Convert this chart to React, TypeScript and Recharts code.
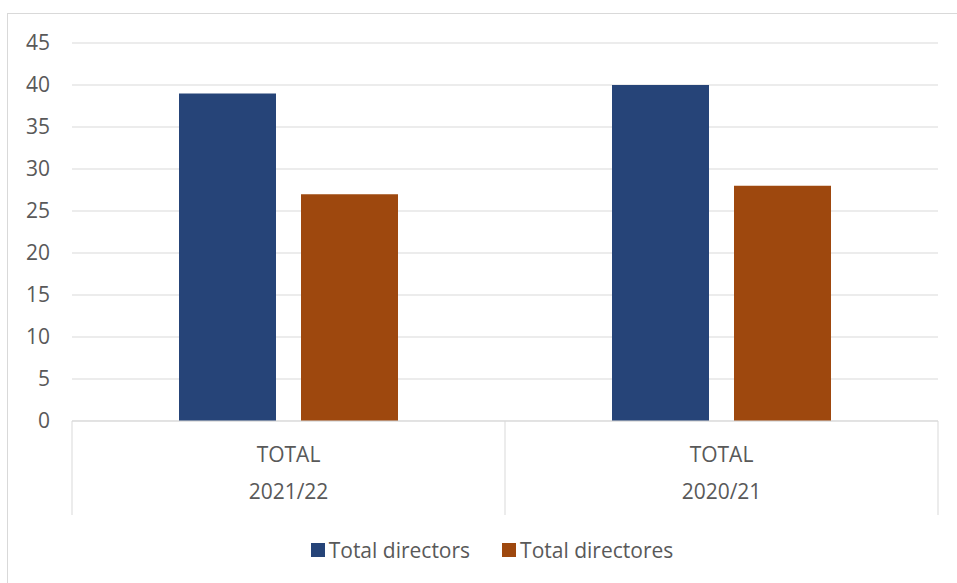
import React from 'react';
import { BarChart, Bar, XAxis, YAxis, CartesianGrid, Legend } from 'recharts';

const years = ['2021/22', '2020/21'];
const groupLabel = 'TOTAL';
const directors = [39, 40];
const directores = [27, 28];
const yTicks = [0, 5, 10, 15, 20, 25, 30, 35, 40, 45];

const seriesNames = ['Total directors', 'Total directores'];
const seriesColors = ['#264478', '#9E480E'];

const data = years.map((year, i) => ({
  year,
  directors: directors[i],
  directores: directores[i],
}));

const textColor = '#595959';
const lineColor = '#d9d9d9';
const font = '"Open Sans", sans-serif';
const fontSize = 21;

const CategoryTick = (props: any) => {
  const { x, y, payload, index, visibleTicksCount } = props;
  const half = payload && payload.offset ? payload.offset : 216.5;
  const isLast = index === (visibleTicksCount ?? years.length) - 1;
  return (
    <g>
      <line x1={x - half} x2={x - half} y1={y} y2={y + 94} stroke={lineColor} strokeWidth={1} />
      {isLast && <line x1={x + half} x2={x + half} y1={y} y2={y + 94} stroke={lineColor} strokeWidth={1} />}
      <text x={x} y={y + 33} textAnchor="middle" dominantBaseline="central" fill={textColor} fontSize={fontSize} fontFamily={font}>
        {groupLabel}
      </text>
      <text x={x} y={y + 70} textAnchor="middle" dominantBaseline="central" fill={textColor} fontSize={fontSize} fontFamily={font}>
        {payload.value}
      </text>
    </g>
  );
};

const LegendContent = () => (
  <div
    style={{
      display: 'flex',
      justifyContent: 'center',
      alignItems: 'center',
      height: 30,
      paddingLeft: 27,
      boxSizing: 'border-box',
      fontFamily: font,
      fontSize,
      color: textColor,
    }}
  >
    {seriesNames.map((name, i) => (
      <div key={name} style={{ display: 'flex', alignItems: 'center', marginLeft: i > 0 ? 32 : 0 }}>
        <span style={{ display: 'inline-block', width: 14, height: 14, background: seriesColors[i], marginRight: 4 }} />
        <span>{name}</span>
      </div>
    ))}
  </div>
);

export default function App() {
  return (
    <div style={{ position: 'absolute', left: 0, top: 0, width: 957, height: 583, overflow: 'hidden', background: '#fff' }}>
      <div
        style={{
          position: 'absolute',
          left: 7,
          top: 13,
          width: 990,
          height: 600,
          border: `1px solid ${lineColor}`,
        }}
      />
      <div style={{ position: 'absolute', left: 0, top: 0 }}>
        <BarChart
          width={957}
          height={583}
          data={data}
          margin={{ top: 43, right: 19, left: 0, bottom: 38 }}
          barGap={25}
          style={{ fontFamily: font }}
        >
          <CartesianGrid vertical={false} stroke={lineColor} />
          <XAxis
            dataKey="year"
            height={94}
            axisLine={{ stroke: lineColor }}
            tickLine={false}
            tickSize={0}
            tickMargin={0}
            tick={<CategoryTick />}
            interval={0}
          />
          <YAxis
            width={72}
            domain={[0, 45]}
            ticks={yTicks}
            axisLine={false}
            tickLine={false}
            tickSize={0}
            tickMargin={22}
            tick={{ fill: textColor, fontSize, fontFamily: font }}
          />
          <Legend
            verticalAlign="bottom"
            content={<LegendContent />}
            wrapperStyle={{ top: 535, bottom: 'auto', left: 0, width: 957, height: 30 }}
          />
          <Bar dataKey="directors" name={seriesNames[0]} fill={seriesColors[0]} barSize={97} isAnimationActive={false} />
          <Bar dataKey="directores" name={seriesNames[1]} fill={seriesColors[1]} barSize={97} isAnimationActive={false} />
        </BarChart>
      </div>
    </div>
  );
}
